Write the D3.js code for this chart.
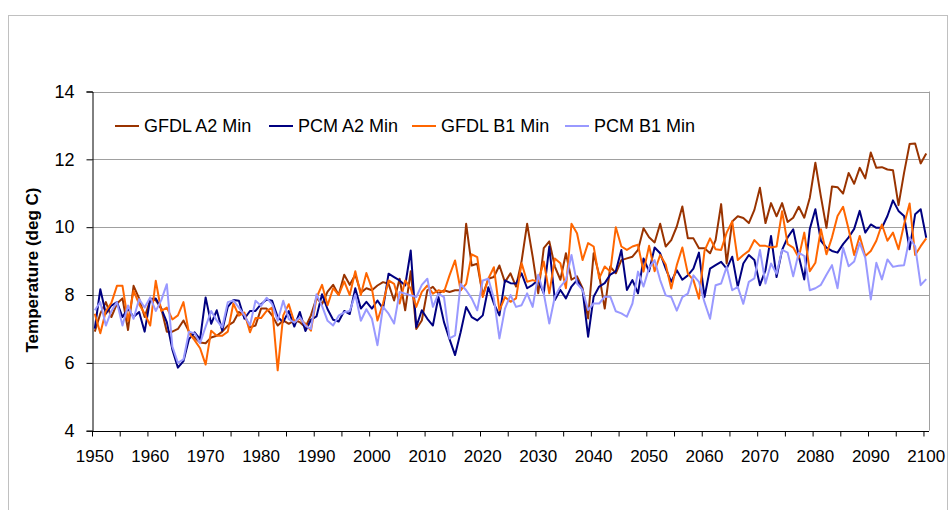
<!DOCTYPE html>
<html><head><meta charset="utf-8">
<script src="https://cdn.jsdelivr.net/npm/d3@7"></script>
<style>body{margin:0;background:#fff;}svg{display:block;font-family:"Liberation Sans",Arial,sans-serif;}</style>
</head><body>
<svg id="c" width="951" height="510"></svg>
<script>
const years = d3.range(1950, 2101);
const seriesNames = ["GFDL A2 Min","PCM A2 Min","GFDL B1 Min","PCM B1 Min"];
const seriesColors = ["#993300","#000080","#FF6600","#9999FF"];
const yTicks = [4,6,8,10,12,14];
const xLabels = d3.range(1950, 2101, 10);

const gfdlA2 = [6.92,7.45,7.79,7.35,7.75,7.9,6.97,8.27,7.9,7.35,
7.85,7.85,7.6,6.92,6.92,7.0,7.25,6.92,6.75,6.6,
6.58,6.75,6.8,6.92,7.1,7.2,7.5,7.4,7.05,7.1,
7.6,7.6,7.4,7.1,7.25,7.15,7.25,7.2,7.05,7.4,
7.92,7.73,8.1,8.3,8.0,8.6,8.3,8.6,8.07,8.2,
8.14,8.28,8.38,8.33,7.84,8.48,7.55,8.7,7.0,7.25,
8.14,8.24,8.04,8.14,8.09,8.14,8.14,10.1,8.87,8.92,
8.0,8.48,8.53,8.87,8.38,8.64,8.25,9.0,10.1,9.13,
8.05,9.38,9.58,8.84,8.45,9.23,8.45,8.55,8.2,7.31,
9.23,8.59,7.6,8.84,8.64,9.03,9.08,9.13,9.33,9.97,
9.7,9.55,10.1,9.43,9.62,10.02,10.61,9.67,9.67,9.38,
9.38,9.23,9.62,10.68,8.93,10.17,10.32,10.27,10.12,10.51,
11.16,10.12,10.71,10.32,10.71,10.15,10.28,10.6,10.28,10.87,
11.9,10.9,9.98,11.2,11.18,10.99,11.6,11.28,11.75,11.44,
12.2,11.75,11.77,11.7,11.68,10.65,11.6,12.45,12.47,11.88,
12.17];
const pcmA2 = [7.01,8.17,7.45,7.69,7.79,7.35,7.6,7.35,7.5,6.92,
7.88,7.9,7.6,7.2,6.39,5.86,6.05,6.7,6.9,6.7,
7.93,7.15,7.55,6.95,7.65,7.85,7.83,7.3,7.53,7.53,
7.73,7.87,7.83,7.35,7.2,7.53,7.07,7.5,6.94,7.27,
7.37,8.02,7.58,7.27,7.22,7.53,7.44,8.2,7.6,7.8,
7.6,7.84,7.6,8.63,8.53,8.43,8.28,9.31,7.06,7.55,
7.3,7.1,7.94,7.2,6.7,6.23,6.9,7.65,7.35,7.25,
7.4,8.23,7.75,7.4,8.43,8.35,8.34,8.64,8.2,8.3,
8.44,8.05,9.43,7.85,8.15,7.9,8.25,8.44,8.15,6.77,
7.95,8.25,8.35,8.6,8.7,9.33,8.15,8.44,8.05,9.08,
8.7,9.4,9.23,8.78,8.39,8.73,8.45,8.58,8.78,9.25,
7.94,8.78,8.88,8.98,8.78,9.13,8.24,8.93,9.18,9.03,
8.29,8.73,9.74,8.53,9.33,9.7,9.94,9.15,8.46,9.95,
10.53,9.6,9.4,9.3,9.25,9.5,9.7,9.95,10.48,9.84,
10.08,9.98,9.98,10.33,10.79,10.48,10.33,9.35,10.38,10.53,
9.69];
const gfdlB1 = [7.45,6.87,7.53,7.77,8.27,8.27,7.24,8.13,7.73,7.45,
7.1,8.42,7.53,7.63,7.28,7.4,7.79,6.87,6.67,6.43,
5.95,6.95,6.8,6.8,6.92,7.75,7.39,7.48,6.9,7.32,
7.32,7.53,7.63,5.78,7.4,7.73,7.2,7.3,7.15,6.95,
7.92,8.3,7.7,8.2,8.0,8.4,8.0,8.7,8.0,8.65,
8.19,7.25,7.75,8.43,8.33,7.75,8.43,8.19,7.65,8.09,
8.28,8.04,8.14,8.09,8.58,9.02,8.14,8.33,9.2,9.12,
7.94,8.48,8.82,7.55,7.94,7.8,7.9,8.94,8.39,8.44,
8.39,8.99,8.05,9.08,8.94,8.2,10.1,9.82,9.03,9.53,
9.43,8.49,8.84,8.69,10.0,9.43,9.33,9.43,9.48,8.69,
9.45,8.7,9.18,8.9,8.19,8.88,9.4,8.63,8.44,7.89,
9.3,9.67,9.35,9.33,9.84,10.17,9.03,9.18,9.3,9.62,
9.45,9.45,9.4,9.43,10.47,9.5,9.4,9.1,9.84,8.7,
8.95,9.94,9.2,9.7,10.33,10.6,9.94,9.18,9.74,9.15,
9.3,9.6,10.08,9.6,9.84,9.35,10.08,10.7,9.18,9.44,
9.67];
const pcmB1 = [7.55,7.79,7.1,7.53,7.79,7.1,7.69,7.3,7.88,7.63,
7.93,7.53,7.85,8.32,6.48,6.0,6.1,6.92,6.87,6.58,
7.07,7.53,7.25,7.05,7.79,7.84,7.63,7.4,7.1,7.83,
7.68,7.92,7.73,7.24,7.83,7.29,7.19,7.34,7.1,7.0,
8.02,7.68,7.24,7.1,7.39,7.49,7.53,8.02,7.24,7.58,
7.3,6.52,7.65,7.45,7.16,8.09,8.04,7.99,7.94,8.3,
8.48,7.65,8.04,7.94,6.72,6.81,8.33,8.14,7.9,7.55,
8.43,8.48,7.9,6.72,7.6,8.0,7.65,7.7,8.05,7.65,
8.6,8.05,7.16,7.95,8.25,8.44,9.18,8.34,8.15,7.56,
7.75,7.75,7.95,7.95,7.52,7.46,7.36,7.75,8.69,8.25,
8.8,9.03,8.44,7.99,7.94,7.54,7.94,8.04,8.58,8.39,
7.79,7.3,8.29,8.34,8.83,8.14,8.24,7.74,8.39,8.49,
9.33,8.34,8.93,8.63,9.33,9.25,8.55,9.25,9.15,8.14,
8.2,8.3,8.6,8.88,8.2,9.4,8.85,8.99,9.54,9.1,
7.87,8.95,8.46,9.05,8.83,8.86,8.88,9.69,9.44,8.29,
8.47];
const seriesValues = [gfdlA2, pcmA2, gfdlB1, pcmB1];

const svg = d3.select("#c");
// outer chart border
svg.append("rect").attr("x",8.5).attr("y",15.5).attr("width",939).attr("height",520)
  .attr("fill","none").attr("stroke","#c0c0c0").attr("stroke-width",1);

const L = 92, R = 929, T = 91.5, B = 430.7;
const x = d3.scaleBand().domain(years).range([L, R]).paddingInner(0).paddingOuter(0);
const bw = x.bandwidth();
const y = d3.scaleLinear().domain([4,14]).range([B, T]);

// gridlines
svg.append("g").selectAll("line").data(yTicks.filter(d=>d>4)).join("line")
  .attr("x1",L).attr("x2",R).attr("y1",d=>Math.round(y(d))+0.5).attr("y2",d=>Math.round(y(d))+0.5)
  .attr("stroke","#a0a0a0").attr("stroke-width",1);
// right border of plot
svg.append("line").attr("x1",R+0.5).attr("x2",R+0.5).attr("y1",T).attr("y2",B)
  .attr("stroke","#a0a0a0");

// lines
const line = d3.line().x((d,i)=>x(years[i])+bw/2).y(d=>y(d));
seriesValues.forEach((vals,k)=>{
  svg.append("path").datum(vals).attr("d",line).attr("fill","none")
    .attr("stroke",seriesColors[k]).attr("stroke-width",2).attr("stroke-linejoin","round");
});

// y axis
const yAxis = d3.axisLeft(y).tickValues(yTicks).tickSize(6).tickPadding(12).tickFormat(d3.format("d"));
const gy = svg.append("g").attr("transform",`translate(${L+0.5},0)`).call(yAxis);
gy.select(".domain").attr("stroke","#000");
gy.selectAll(".tick line").attr("stroke","#000");
gy.selectAll("text").attr("font-size",18).attr("fill","#000").attr("font-family","Liberation Sans, Arial, sans-serif");

// x axis ticks every 5 years at category boundaries
const xb = Math.round(B)+0.5;
svg.append("line").attr("x1",L).attr("x2",R).attr("y1",xb).attr("y2",xb).attr("stroke","#000");
svg.append("g").selectAll("line").data(d3.range(1950,2101,5)).join("line")
  .attr("x1",d=>x(d)+0.5).attr("x2",d=>x(d)+0.5).attr("y1",xb).attr("y2",xb+5).attr("stroke","#000");
svg.append("g").selectAll("text").data(xLabels).join("text")
  .attr("x",d=>x(d)+bw/2).attr("y",462).attr("text-anchor","middle")
  .attr("font-size",17).attr("fill","#000").text(d=>d);

// y title
svg.append("text").attr("transform","translate(38,270) rotate(-90)")
  .attr("text-anchor","middle").attr("font-size",17).attr("font-weight","bold").text("Temperature (deg C)");

// legend
const legX = [115, 269, 412, 565];
const lg = svg.append("g");
seriesNames.forEach((n,k)=>{
  lg.append("line").attr("x1",legX[k]).attr("x2",legX[k]+24).attr("y1",126).attr("y2",126)
    .attr("stroke",seriesColors[k]).attr("stroke-width",2);
  lg.append("text").attr("x",legX[k]+29).attr("y",132).attr("font-size",18).text(n);
});
</script>
</body></html>
